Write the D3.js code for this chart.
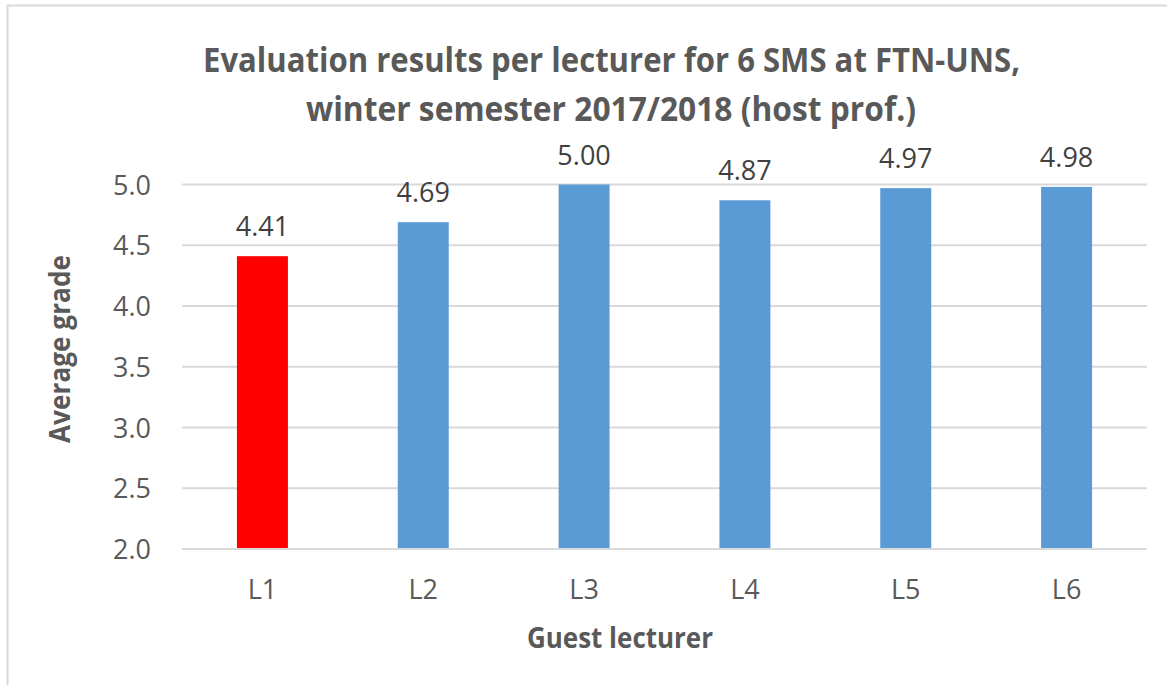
<!DOCTYPE html>
<html>
<head>
<meta charset="utf-8">
<script src="https://cdn.jsdelivr.net/npm/d3@7"></script>
<style>
  body { margin: 0; background: #fff; }
  svg { display: block; font-family: "Open Sans", "Noto Sans", sans-serif; }
</style>
</head>
<body>
<svg id="chart"></svg>
<script>
// data
var lecturers = ["L1", "L2", "L3", "L4", "L5", "L6"];
var grades = [4.41, 4.69, 5.00, 4.87, 4.97, 4.98];
var yTicks = [2.0, 2.5, 3.0, 3.5, 4.0, 4.5, 5.0];
var titleLines = ["Evaluation results per lecturer for 6 SMS at FTN-UNS,",
                  "winter semester 2017/2018 (host prof.)"];

var width = 1167;
var height = 685;

var svg = d3.select("#chart")
  .attr("width", width)
  .attr("height", height);

// chart frame (only left/top edges are inside the picture)
svg.append("rect")
  .attr("x", 7.5).attr("y", 5.5)
  .attr("width", 1300).attr("height", 800)
  .attr("fill", "none")
  .attr("stroke", "#d9d9d9")
  .attr("stroke-width", 2);

var plotLeft = 182, plotRight = 1147, plotTop = 184.5, plotBottom = 549;

var x = d3.scaleBand()
  .domain(lecturers)
  .range([plotLeft, plotRight])
  .paddingInner(0.683)
  .paddingOuter(0.3415);

var y = d3.scaleLinear()
  .domain([2, 5])
  .range([plotBottom, plotTop]);

// gridlines
svg.append("g")
  .selectAll("line")
  .data(yTicks)
  .enter().append("line")
  .attr("x1", plotLeft).attr("x2", plotRight)
  .attr("y1", function(d){ return y(d); })
  .attr("y2", function(d){ return y(d); })
  .attr("stroke", "#d9d9d9")
  .attr("stroke-width", 2);

// y tick labels
var yAxis = d3.axisLeft(y).tickValues(yTicks).tickFormat(d3.format(".1f")).tickSize(0).tickPadding(0);
var ga = svg.append("g").attr("transform", "translate(151,0)").call(yAxis);
ga.select(".domain").remove();
ga.selectAll("text")
  .attr("font-family", "Open Sans")
  .attr("font-size", 27)
  .attr("fill", "#595959")
  .attr("dy", "0.36em");

// bars
svg.append("g")
  .selectAll("rect")
  .data(grades)
  .enter().append("rect")
  .attr("x", function(d, i){ return x(lecturers[i]); })
  .attr("width", x.bandwidth())
  .attr("y", function(d){ return y(d); })
  .attr("height", function(d){ return y(2) - y(d); })
  .attr("fill", function(d, i){ return i === 0 ? "#ff0000" : "#5b9bd5"; });

// baseline
svg.append("line")
  .attr("x1", plotLeft).attr("x2", plotRight)
  .attr("y1", y(2)).attr("y2", y(2))
  .attr("stroke", "#d9d9d9")
  .attr("stroke-width", 2);

// value labels
svg.append("g")
  .selectAll("text")
  .data(grades)
  .enter().append("text")
  .attr("x", function(d, i){ return x(lecturers[i]) + x.bandwidth() / 2; })
  .attr("y", function(d){ return y(d) - 20; })
  .attr("text-anchor", "middle")
  .attr("font-size", 27)
  .attr("fill", "#404040")
  .text(function(d){ return d.toFixed(2); });

// x tick labels
var xAxis = d3.axisBottom(x).tickSize(0).tickPadding(0);
var gx = svg.append("g").attr("transform", "translate(0," + plotBottom + ")").call(xAxis);
gx.select(".domain").remove();
gx.selectAll("text")
  .attr("font-family", "Open Sans")
  .attr("font-size", 27)
  .attr("fill", "#595959")
  .attr("dy", 0)
  .attr("y", 50);

// title
svg.selectAll(".title")
  .data(titleLines)
  .enter().append("text")
  .attr("class", "title")
  .attr("x", function(d, i){ return i === 0 ? 611.5 : 611; })
  .attr("y", function(d, i){ return i === 0 ? 72 : 121; })
  .attr("text-anchor", "middle")
  .attr("font-weight", "bold")
  .attr("font-size", 34)
  .attr("fill", "#595959")
  .attr("textLength", function(d, i){ return i === 0 ? 817 : 610; })
  .attr("lengthAdjust", "spacingAndGlyphs")
  .text(function(d){ return d; });

// axis titles
svg.append("text")
  .attr("x", 620).attr("y", 648)
  .attr("text-anchor", "middle")
  .attr("font-weight", "bold")
  .attr("font-size", 28)
  .attr("fill", "#595959")
  .attr("textLength", 186)
  .attr("lengthAdjust", "spacingAndGlyphs")
  .text("Guest lecturer");

svg.append("text")
  .attr("transform", "translate(70,349) rotate(-90)")
  .attr("text-anchor", "middle")
  .attr("font-weight", "bold")
  .attr("font-size", 28)
  .attr("fill", "#595959")
  .attr("textLength", 188)
  .attr("lengthAdjust", "spacingAndGlyphs")
  .text("Average grade");
</script>
</body>
</html>
